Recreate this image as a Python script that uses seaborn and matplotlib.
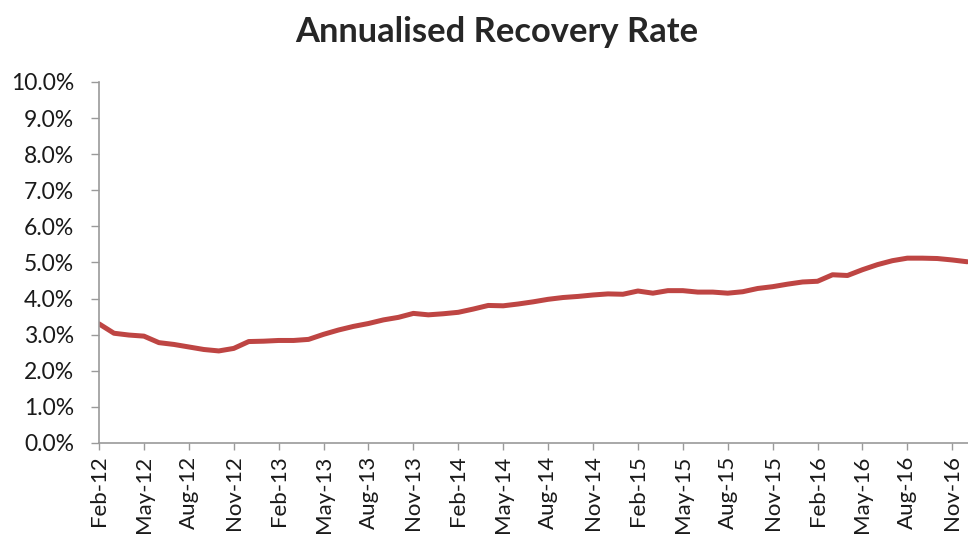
# recovery_rate.py

import numpy as np
import pandas as pd
import matplotlib
matplotlib.use("Agg")
import matplotlib.pyplot as plt
import seaborn as sns
from matplotlib.ticker import PercentFormatter

# Monthly annualised recovery rate (%), Feb-12 .. Dec-16
months = pd.date_range("2012-02-01", "2016-12-01", freq="MS")
rate = [3.30, 3.04, 2.99, 2.96, 2.78, 2.73, 2.66, 2.59, 2.55, 2.62,
        2.81, 2.82, 2.84, 2.84, 2.87, 3.01, 3.13, 3.23, 3.31, 3.41,
        3.48, 3.59, 3.55, 3.58, 3.62, 3.71, 3.81, 3.80, 3.85, 3.91,
        3.98, 4.03, 4.06, 4.10, 4.13, 4.12, 4.21, 4.15, 4.22, 4.22,
        4.18, 4.18, 4.15, 4.19, 4.28, 4.33, 4.40, 4.46, 4.48, 4.66,
        4.64, 4.80, 4.94, 5.05, 5.12, 5.12, 5.11, 5.07, 5.02]

df = pd.DataFrame({"month": months, "rate": rate})
df["pos"] = np.arange(len(df))

# tick labels every 3 months
tick_pos = df["pos"][::3]
tick_labels = df["month"][::3].dt.strftime("%b-%y")

sns.set_style("white")
plt.rcParams["font.family"] = ["Lato", "DejaVu Sans"]

fig = plt.figure(figsize=(9.68, 5.38), dpi=100)
ax = fig.add_axes([0.1023, 0.1766, 0.9, 0.671])

sns.lineplot(data=df, x="pos", y="rate", color="#BE4543", linewidth=3.6, ax=ax)

ax.set_xlim(0, len(df) - 1 + 0.2)
ax.set_ylim(0, 10)
ax.set_yticks(np.arange(0, 10.5, 1))
ax.yaxis.set_major_formatter(PercentFormatter(decimals=1))
ax.set_xticks(tick_pos)
ax.set_xticklabels(tick_labels, rotation=90, fontsize=16, color="#1a1a1a")
ax.tick_params(axis="y", labelsize=16.5, colors="#1a1a1a", pad=12, length=6)
ax.tick_params(axis="x", pad=4, length=5)
ax.tick_params(axis="both", width=1, color="#9a9a9a", direction="out")
ax.tick_params(axis="both", left=True, bottom=True)

for side in ["top", "right"]:
    ax.spines[side].set_visible(False)
for side in ["left", "bottom"]:
    ax.spines[side].set_color("#9a9a9a")
    ax.spines[side].set_linewidth(1.2)

ax.set_xlabel("")
ax.set_ylabel("")
fig.text(0.513, 1 - 32 / 538, "Annualised Recovery Rate", ha="center", va="center",
         fontsize=24.8, fontweight="bold")

fig.savefig("out.png", dpi=100)
